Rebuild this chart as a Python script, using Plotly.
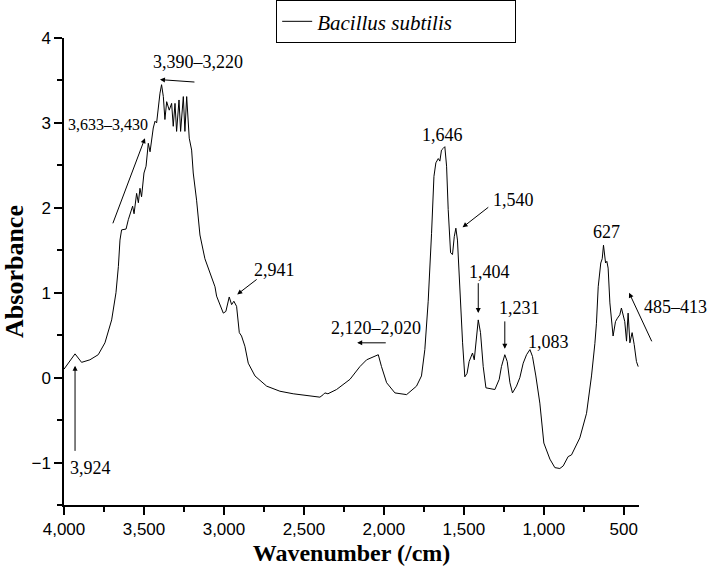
import plotly.graph_objects as go

# FTIR spectrum
wavenumber = [
    4000, 3931, 3890, 3838, 3786, 3744, 3702, 3675, 3660, 3650, 3640, 3612,
    3598, 3583, 3571, 3562, 3546, 3535, 3525, 3515, 3500, 3487, 3473, 3462,
    3452, 3442, 3431, 3421, 3400, 3390, 3379, 3369, 3358, 3342, 3327, 3317,
    3306, 3296, 3281, 3271, 3254, 3244, 3233, 3217, 3202, 3192, 3171, 3150,
    3119, 3087, 3056, 3046, 3004, 2988, 2967, 2952, 2938, 2921, 2904, 2890,
    2869, 2848, 2806, 2733, 2650, 2567, 2462, 2400, 2379, 2369, 2350, 2296,
    2212, 2150, 2108, 2056, 2035, 2015, 1983, 1931, 1858, 1796, 1765, 1744,
    1723, 1702, 1687, 1675, 1660, 1650, 1640, 1629, 1619, 1608, 1598, 1583,
    1571, 1560, 1550, 1540, 1525, 1508, 1494, 1480, 1467, 1446, 1435, 1421,
    1410, 1396, 1379, 1362, 1337, 1306, 1279, 1265, 1244, 1229, 1212, 1196,
    1171, 1150, 1129, 1108, 1087, 1071, 1050, 1025, 1000, 973, 962, 931,
    900, 879, 848, 827, 775, 733, 702, 681, 671, 660, 650, 644,
    635, 627, 614, 606, 598, 587, 567, 552, 540, 525, 515, 504,
    494, 483, 473, 462, 448, 435, 421, 410,
]
absorbance = [
    0.10, 0.28, 0.18, 0.21, 0.27, 0.41, 0.68, 1.00, 1.31, 1.62, 1.74, 1.75,
    1.86, 1.96, 2.02, 1.93, 2.17, 2.06, 2.23, 2.13, 2.41, 2.49, 2.76, 2.66,
    2.80, 2.94, 3.02, 3.00, 3.35, 3.45, 3.31, 3.04, 3.25, 3.15, 3.23, 2.96,
    3.23, 2.90, 3.27, 2.90, 3.31, 2.90, 3.31, 2.82, 2.68, 2.41, 2.09, 1.68,
    1.40, 1.24, 1.07, 0.96, 0.76, 0.78, 0.95, 0.86, 0.90, 0.84, 0.53, 0.49,
    0.37, 0.17, 0.02, -0.10, -0.16, -0.19, -0.21, -0.23, -0.20, -0.18, -0.19, -0.14,
    -0.02, 0.13, 0.21, 0.25, 0.27, 0.13, -0.06, -0.18, -0.20, -0.10, 0.02, 0.33,
    0.90, 1.70, 2.37, 2.53, 2.58, 2.55, 2.68, 2.70, 2.72, 2.49, 1.98, 1.47,
    1.45, 1.66, 1.76, 1.62, 1.00, 0.41, 0.01, 0.05, 0.19, 0.29, 0.21, 0.49,
    0.68, 0.53, 0.13, -0.12, -0.13, -0.14, -0.02, 0.13, 0.27, 0.19, -0.06, -0.18,
    -0.10, 0.00, 0.17, 0.27, 0.33, 0.25, 0.02, -0.30, -0.77, -0.89, -0.96, -1.06,
    -1.07, -1.04, -0.93, -0.91, -0.71, -0.42, 0.02, 0.40, 0.64, 1.07, 1.27, 1.35,
    1.40, 1.56, 1.35, 1.37, 1.29, 0.88, 0.49, 0.66, 0.70, 0.74, 0.82, 0.72,
    0.66, 0.43, 0.76, 0.41, 0.53, 0.39, 0.19, 0.13,
]

# peak labels: text, x, y (data coords), font size
labels = [
    ("3,390–3,220", 3162, 3.72, 18),
    ("3,633–3,430", 3725, 2.98, 16),
    ("3,924", 3837, -1.06, 18),
    ("2,941", 2681, 1.27, 18),
    ("2,120–2,020", 2050, 0.58, 18),
    ("1,646", 1634, 2.86, 18),
    ("1,540", 1187, 2.09, 18),
    ("1,404", 1338, 1.25, 18),
    ("1,231", 1150, 0.82, 18),
    ("1,083", 969, 0.42, 18),
    ("627", 606, 1.71, 18),
]

# arrows: head x, head y, tail x, tail y
arrows = [
    (3400, 3.51, 3175, 3.48),
    (3494, 2.82, 3698, 1.80),
    (3931, 0.14, 3931, -0.88),
    (2917, 0.98, 2786, 1.17),
    (2167, 0.41, 1979, 0.41),
    (1508, 1.77, 1338, 2.02),
    (1410, 0.76, 1410, 1.13),
    (1244, 0.34, 1244, 0.68),
    (467, 1.00, 321, 0.41),
]

fig = go.Figure()

fig.add_trace(go.Scatter(
    x=wavenumber, y=absorbance,
    mode="lines",
    name="Bacillus subtilis",
    line=dict(color="black", width=1),
))

for text, x, y, size in labels:
    fig.add_annotation(
        text=text, x=x, y=y, xref="x", yref="y",
        showarrow=False,
        font=dict(family="Liberation Serif", size=size, color="black"),
    )

# this label sits right of the axis end, so place it in paper coords
fig.add_annotation(
    text="485–413", x=1.063, y=0.425, xref="paper", yref="paper",
    xanchor="center", yanchor="middle",
    showarrow=False,
    font=dict(family="Liberation Serif", size=18, color="black"),
)

for hx, hy, tx, ty in arrows:
    fig.add_annotation(
        text="", x=hx, y=hy, ax=tx, ay=ty,
        xref="x", yref="y", axref="x", ayref="y",
        showarrow=True, arrowhead=2, arrowsize=1, arrowwidth=1,
        arrowcolor="black", standoff=0,
    )

fig.update_xaxes(
    range=[4000, 405],
    tickvals=[4000, 3500, 3000, 2500, 2000, 1500, 1000, 500],
    tickformat=",",
    ticks="outside", ticklen=8, tickwidth=1.5, tickcolor="black",
    minor=dict(dtick=250, ticks="outside", ticklen=5, tickwidth=1.5, tickcolor="black"),
    showline=True, linecolor="black", linewidth=2,
    showgrid=False, zeroline=False,
    tickfont=dict(family="Liberation Sans", size=17, color="black"),
    title=dict(text="<b>Wavenumber (/cm)</b>",
               font=dict(family="Liberation Serif", size=24, color="black"),
               standoff=6),
)
fig.update_yaxes(
    range=[-1.5, 4],
    tickvals=[-1, 0, 1, 2, 3, 4],
    ticks="outside", ticklen=8, tickwidth=1.5, tickcolor="black",
    minor=dict(dtick=0.5, ticks="outside", ticklen=5, tickwidth=1.5, tickcolor="black"),
    showline=True, linecolor="black", linewidth=1.5,
    showgrid=False, zeroline=False,
    tickfont=dict(family="Liberation Sans", size=17, color="black"),
    title=dict(text="<b>Absorbance</b>",
               font=dict(family="Liberation Serif", size=26, color="black"),
               standoff=2),
)

fig.update_layout(
    width=709, height=580,
    margin=dict(l=64, r=70, t=38, b=75, autoexpand=False),
    plot_bgcolor="white", paper_bgcolor="white",
    showlegend=True,
    legend=dict(
        x=0.369, y=1.081, xanchor="left", yanchor="top",
        orientation="h",
        bordercolor="black", borderwidth=1,
        entrywidth=193, entrywidthmode="pixels",
        font=dict(family="Liberation Serif", size=21, color="black", style="italic"),
    ),
)

# drop the browser's default body margin so the figure sits at the page corner
fig.write_html(
    "out.html",
    config={"displayModeBar": False},
    post_script="document.body.style.margin='0';",
)
